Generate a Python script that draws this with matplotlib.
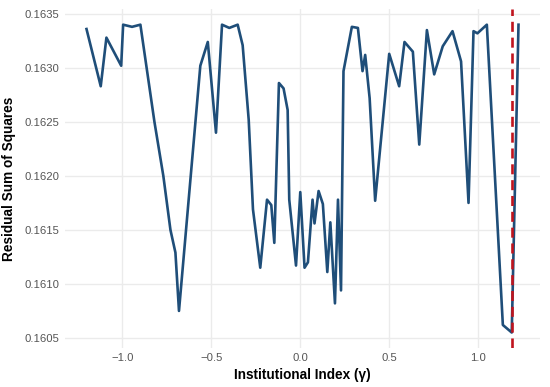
import numpy as np
import matplotlib
matplotlib.use("Agg")
import matplotlib.pyplot as plt

plt.rcParams['font.family'] = ['Liberation Sans', 'DejaVu Sans']

# ======= Data =======
gamma = [-1.202, -1.122, -1.090, -1.007, -0.996, -0.946, -0.899, -0.820, -0.770,
         -0.730, -0.702, -0.682, -0.562, -0.520, -0.474, -0.440, -0.399, -0.352,
         -0.324, -0.290, -0.266, -0.225, -0.187, -0.163, -0.146, -0.120, -0.094,
         -0.071, -0.062, -0.024, 0.000, 0.024, 0.043, 0.069, 0.080, 0.103, 0.127,
         0.152, 0.169, 0.195, 0.212, 0.229, 0.243, 0.290, 0.324, 0.350, 0.365,
         0.390, 0.421, 0.500, 0.556, 0.586, 0.633, 0.669, 0.712, 0.753, 0.801,
         0.856, 0.904, 0.946, 0.974, 0.996, 1.049, 1.139, 1.189, 1.227]
rss = [0.16336, 0.16283, 0.16328, 0.16302, 0.16340, 0.16338, 0.16340, 0.16250, 0.16200,
       0.16150, 0.16129, 0.16075, 0.16302, 0.16324, 0.16240, 0.16340, 0.16337, 0.16340,
       0.16321, 0.16252, 0.16169, 0.16115, 0.16178, 0.16173, 0.16138, 0.16286, 0.16281,
       0.16261, 0.16178, 0.16117, 0.16185, 0.16115, 0.16120, 0.16178, 0.16156, 0.16186, 0.16174,
       0.16111, 0.16157, 0.16082, 0.16178, 0.16094, 0.16297, 0.16338, 0.16337, 0.16297, 0.16312,
       0.16272, 0.16177, 0.16313, 0.16283, 0.16324, 0.16315, 0.16229, 0.16335, 0.16294, 0.16320,
       0.16334, 0.16306, 0.16175, 0.16334, 0.16332, 0.16340, 0.16062, 0.16055, 0.16340]

x_ticks = [-1.0, -0.5, 0.0, 0.5, 1.0]
y_ticks = [0.1605, 0.1610, 0.1615, 0.1620, 0.1625, 0.1630, 0.1635]

gamma = np.array(gamma)
rss = np.array(rss)
best_gamma = gamma[np.argmin(rss)]

# ======= Plot =======
fig = plt.figure(figsize=(5.5, 3.87), dpi=100)
ax = fig.add_axes([0.118, 0.101, 0.864, 0.875])

ax.plot(gamma, rss, color="#1f4e79", linewidth=1.9, zorder=3)
ax.axvline(best_gamma, color="#c0141e", linestyle=(0, (3.8, 2.2)), linewidth=1.9, zorder=4)

# ggplot-style 5% expansion
xr = gamma.max() - gamma.min()
yr = rss.max() - rss.min()
ax.set_xlim(gamma.min() - 0.05 * xr, gamma.max() + 0.05 * xr)
ax.set_ylim(rss.min() - 0.05 * yr, rss.max() + 0.05 * yr)

ax.set_xticks(x_ticks)
ax.set_yticks(y_ticks)
ax.set_xticklabels([f"{t:.1f}".replace("-", "\u2212") for t in x_ticks])
ax.set_yticklabels([f"{t:.4f}" for t in y_ticks])

ax.grid(True, color="#ebebeb", linewidth=1.0, zorder=0)
ax.set_axisbelow(True)
for s in ax.spines.values():
    s.set_visible(False)
ax.tick_params(length=0, labelsize=8.1, labelcolor="#555555", pad=4)

ax.set_xlabel("Institutional Index (\u03b3)", fontsize=9.8, fontweight="bold", labelpad=3)
ax.set_ylabel("Residual Sum of Squares", fontsize=9.8, fontweight="bold", labelpad=6)

fig.savefig("out.png", dpi=100)
